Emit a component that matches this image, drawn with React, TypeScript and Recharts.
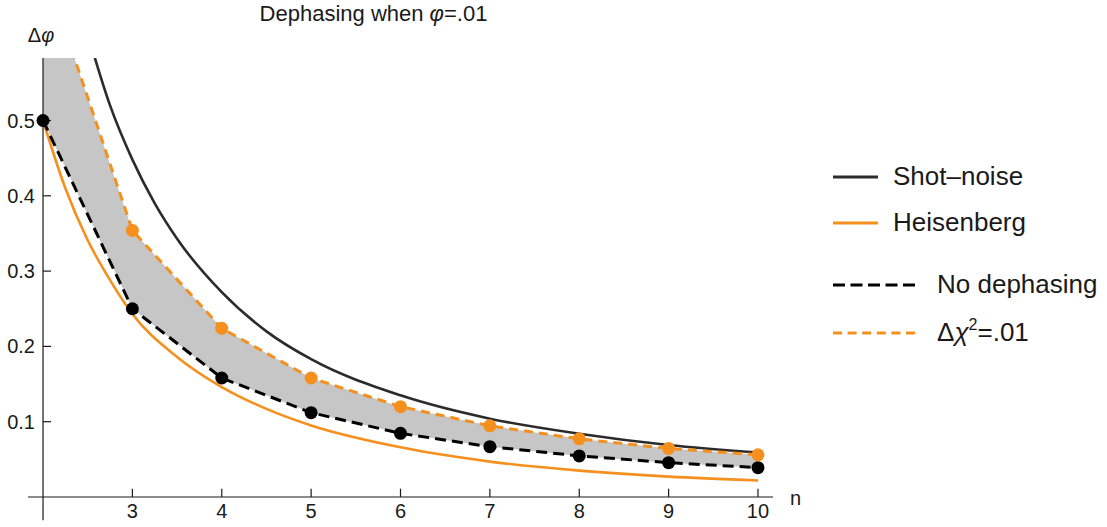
import React from 'react';
import { ComposedChart, Line, Area, XAxis, YAxis, ReferenceLine, Legend } from 'recharts';

// computed points at integer n
const nPoints = [2, 3, 4, 5, 6, 7, 8, 9, 10];
const noDephasing = [0.5, 0.25, 0.158, 0.112, 0.0845, 0.0668, 0.0546, 0.0456, 0.039];
const withDephasing = [0.707, 0.354, 0.224, 0.158, 0.12, 0.0945, 0.0772, 0.0645, 0.056];

// the two bounds
const shotN = [2.5, 2.75, 3, 3.25, 3.5, 4, 4.5, 5, 6, 7, 8, 9, 10];
const shotNoise = [0.615, 0.52, 0.448, 0.39, 0.343, 0.272, 0.22, 0.183, 0.135, 0.104, 0.084, 0.069, 0.059];
const heisN = [2, 2.25, 2.5, 2.75, 3, 3.5, 4, 4.5, 5, 6, 7, 8, 9, 10];
const heisenberg = [0.5, 0.41, 0.341, 0.288, 0.243, 0.186, 0.146, 0.117, 0.095, 0.066, 0.047, 0.035, 0.027, 0.022];

const xTicks = [3, 4, 5, 6, 7, 8, 9, 10];
const yTicks = [0.1, 0.2, 0.3, 0.4, 0.5];

const seriesNames = ['Shot–noise', 'Heisenberg', 'No dephasing', 'Δχ2=.01'];

const ORANGE = '#f5901f';
const DARK = '#2b2b2b';
const FONT = '"Liberation Sans", Arial, sans-serif';

const pointData = nPoints.map((n, i) => ({ n, noDeph: noDephasing[i], deph: withDephasing[i], band: [noDephasing[i], withDephasing[i]] }));
const shotData = shotN.map((n, i) => ({ n, v: shotNoise[i] }));
const heisData = heisN.map((n, i) => ({ n, v: heisenberg[i] }));

const renderLegend = () => {
  const rows = [
    { y: 27, color: DARK, dash: undefined, len: 45 },
    { y: 73, color: ORANGE, dash: undefined, len: 45 },
    { y: 135, color: '#000', dash: '12 5.5', len: 82 },
    { y: 183, color: ORANGE, dash: '9 5.6', len: 82 },
  ];
  return (
    <svg width={279} height={210} style={{ fontFamily: FONT }}>
      {rows.map((r, i) => (
        <g key={i}>
          <line x1={5} x2={5 + r.len} y1={r.y} y2={r.y} stroke={r.color} strokeWidth={3} strokeDasharray={r.dash} />
          <text x={r.len > 50 ? 109 : 65} y={r.y + 8} fontSize={26} fill="#1a1a1a">
            {i === 3 ? (
              <>Δ<tspan fontStyle="italic">χ</tspan><tspan fontSize={16} dy={-11}>2</tspan><tspan dy={11}>=.01</tspan></>
            ) : seriesNames[i]}
          </text>
        </g>
      ))}
    </svg>
  );
};

export default function App() {
  return (
    <div style={{ position: 'relative', width: 1107, height: 527, fontFamily: FONT, background: '#fff' }}>
      <style>{'body{margin:0}'}</style>
      <div style={{ position: 'absolute', left: 0, top: 0, width: 747, textAlign: 'center', fontSize: 22, lineHeight: '28px', color: '#1a1a1a', zIndex: 2 }}>
        Dephasing when <i>φ</i>=.01
      </div>
      <ComposedChart width={1107} height={527} margin={{ top: 58, right: 334, left: 28, bottom: 0 }}>
        <XAxis
          type="number"
          dataKey="n"
          domain={[1.832, 10.168]}
          allowDataOverflow
          ticks={xTicks}
          interval={0}
          tickLine={false}
          tickSize={6}
          tickMargin={1}
          axisLine={{ stroke: '#1a1a1a', strokeWidth: 1.2 }}
          tick={{ fill: '#1a1a1a', fontSize: 20 }}
          label={({ viewBox }: any) => (
            <text x={viewBox.x + viewBox.width + 17} y={viewBox.y + 8} fontSize={20} fill="#1a1a1a">n</text>
          )}
        />
        <YAxis hide type="number" domain={[0, 0.583]} allowDataOverflow />
        <Legend
          layout="horizontal"
          align="center"
          verticalAlign="middle"
          width={279}
          height={210}
          wrapperStyle={{ left: 828, top: 150, width: 279, height: 210 }}
          content={renderLegend}
        />
        <Area data={pointData} dataKey="band" type="linear" fill="#c6c6c6" fillOpacity={1} stroke="none" isAnimationActive={false} />
        <Line data={heisData} dataKey="v" type="monotone" stroke={ORANGE} strokeWidth={2.6} dot={false} isAnimationActive={false} />
        <Line data={shotData} dataKey="v" type="monotone" stroke={DARK} strokeWidth={2.6} dot={false} isAnimationActive={false} />
        <Line data={pointData} dataKey="noDeph" type="linear" stroke="#000" strokeWidth={3} strokeDasharray="11 6" dot={{ r: 6.5, fill: '#000', stroke: 'none' }} isAnimationActive={false} />
        <Line data={pointData} dataKey="deph" type="linear" stroke={ORANGE} strokeWidth={3} strokeDasharray="9 6" dot={{ r: 6.5, fill: ORANGE, stroke: 'none' }} isAnimationActive={false} />
        <ReferenceLine
          segment={[{ x: 2, y: -0.031 }, { x: 2, y: 0.583 }]}
          stroke="#1a1a1a"
          strokeWidth={1.2}
          ifOverflow="visible"
          label={({ viewBox }: any) => (
            <text x={viewBox.x - 2} y={Math.min(viewBox.y, viewBox.y + viewBox.height) - 16} textAnchor="middle" fontSize={20} fill="#1a1a1a">
              Δ<tspan fontStyle="italic">φ</tspan>
            </text>
          )}
        />
        {yTicks.map((t) => (
          <ReferenceLine
            key={'y' + t}
            segment={[{ x: 2, y: t }, { x: 2.09, y: t }]}
            stroke="#1a1a1a"
            strokeWidth={1.2}
            ifOverflow="visible"
            label={{ value: String(t), position: 'left', offset: 8, fontSize: 20, fill: '#1a1a1a' }}
          />
        ))}
        {xTicks.map((t) => (
          <ReferenceLine
            key={'x' + t}
            segment={[{ x: t, y: 0 }, { x: t, y: 0.011 }]}
            stroke="#1a1a1a"
            strokeWidth={1.2}
            ifOverflow="visible"
          />
        ))}
      </ComposedChart>
    </div>
  );
}
